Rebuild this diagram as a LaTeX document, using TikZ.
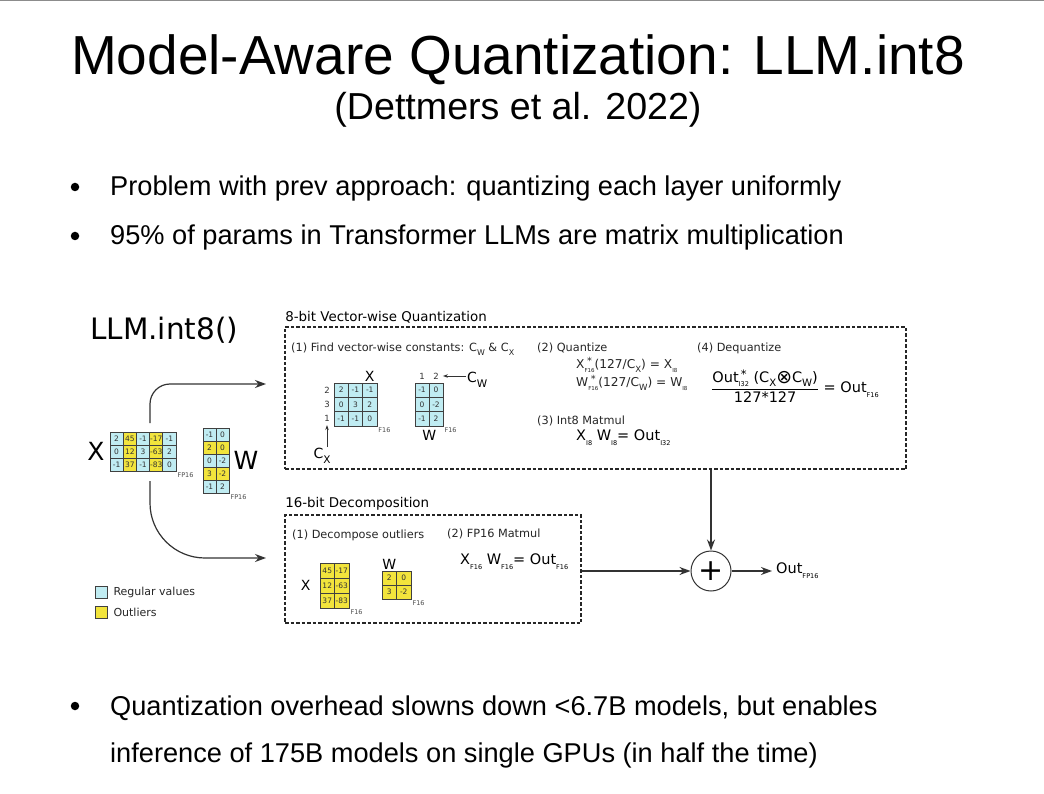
\documentclass[tikz,border=0pt]{standalone}
\usepackage{fontspec}
\usepackage{graphicx}
\usepackage{amsmath}
\usetikzlibrary{arrows.meta,positioning}
\setmainfont{Liberation Sans}
\newfontfamily\dejavu{DejaVu Sans}
\definecolor{regcol}{RGB}{192,236,242}
\definecolor{outcol}{RGB}{242,228,60}
\newcommand{\subt}[2][.45]{\raisebox{-.6ex}{\scalebox{#1}{#2}}}
\newcommand{\starsub}[1]{\setbox0\hbox{\subt{#1}}\rlap{\copy0}\hbox to\wd0{\hss\raisebox{.5ex}{\scalebox{.8}{*}}\hss}}

\begin{document}
\begin{tikzpicture}[x=1pt, y=-1pt, >={Stealth[length=11pt,width=8pt]}]
      \tikzstyle{arrow} = [line width=1.2pt, draw=black!80, ->]
      \tikzstyle{thin arrow} = [line width=0.8pt, draw=black!80, -{Stealth[length=5pt,width=3.5pt]}]
      \tikzstyle{dashbox} = [draw=black!85, line width=1.8pt, dash pattern=on 3.5pt off 2pt, inner sep=0pt]
      \tikzstyle{cell} = [draw=black!75, line width=0.7pt, inner sep=0pt, text=black!80, font=\dejavu\fontsize{7.5}{8}\selectfont]
      \tikzstyle{reg} = [cell, fill=regcol]
      \tikzstyle{outl} = [cell, fill=outcol]
      \tikzstyle{slide} = [inner sep=0pt, anchor=base west, font=\fontsize{27.2}{30}\selectfont]
      \tikzstyle{dot} = [circle, fill=black, inner sep=0pt, minimum size=8.5pt]
      \tikzstyle{head} = [inner sep=0pt, anchor=base west, font=\dejavu\fontsize{13.4}{15}\selectfont]
      \tikzstyle{stagelbl} = [inner sep=0pt, anchor=west, font=\dejavu\fontsize{11.3}{13}\selectfont, text=black!85]
      \tikzstyle{eqsmall} = [inner sep=0pt, anchor=west, font=\dejavu\fontsize{12.2}{13}\selectfont, text=black!85]
      \tikzstyle{eqbig} = [inner sep=0pt, anchor=west, font=\dejavu\fontsize{14.5}{16}\selectfont]
      \tikzstyle{lbl} = [inner sep=1pt, font=\dejavu\fontsize{14}{16}\selectfont]
      \tikzstyle{biglbl} = [inner sep=2pt, font=\dejavu\fontsize{25}{28}\selectfont]
      \tikzstyle{idx} = [inner sep=0pt, font=\dejavu\fontsize{8.5}{9}\selectfont, text=black!80]
      \tikzstyle{tag} = [inner sep=1pt, anchor=north west, font=\dejavu\fontsize{6.5}{7}\selectfont, text=black!70]
      \tikzstyle{legtext} = [inner sep=0pt, font=\dejavu\fontsize{11}{13}\selectfont, text=black!85]

      \fill[white] (0,0) rectangle (1044,794);
      \useasboundingbox (0,0) rectangle (1044,794);
      \draw[black!45, line width=2.5pt] (0,0) -- (1044,0);

      % slide text
      \node[inner sep=0pt, anchor=base, font=\fontsize{55}{60}\selectfont] (title) at (518,75) {Model-Aware Quantization: LLM.int8};
      \node[inner sep=0pt, anchor=base, font=\fontsize{37.6}{40}\selectfont] (subtitle) at (518,120) {(Dettmers et al. 2022)};
      \node[dot] (dot-1) at (75,187) {};
      \node[slide] (bullet-1) at (110,195.5) {Problem with prev approach: quantizing each layer uniformly};
      \node[dot] (dot-2) at (75,236) {};
      \node[slide] (bullet-2) at (110,244.5) {95\% of params in Transformer LLMs are matrix multiplication};
      \node[dot] (dot-3) at (75,706) {};
      \node[slide] (bullet-3) at (110,715) {Quantization overhead slowns down <6.7B models, but enables};
      \node[slide] (bullet-3b) at (110,762) {inference of 175B models on single GPUs (in half the time)};

      % input matrices
      \node[inner sep=0pt, anchor=base west, font=\dejavu\fontsize{29.5}{32}\selectfont] (llm) at (90,339) {LLM.int8()};
      \foreach \row [count=\i] in {{2/reg,45/outl,-1/reg,-17/outl,-1/reg},{0/reg,12/outl,3/reg,-63/outl,2/reg},{-1/reg,37/outl,-1/reg,-83/outl,0/reg}}
        \foreach \v/\s [count=\j] in \row
          \node[\s, minimum width=13.2pt, minimum height=13pt] (Xin-\i-\j) at ({103.4+13.2*\j}, {425.5+13*\i}) {\v};
      \foreach \row [count=\i] in {{-1/reg,0/reg},{2/outl,0/outl},{0/reg,-2/reg},{3/outl,-2/outl},{-1/reg,2/reg}}
        \foreach \v/\s [count=\j] in \row
          \node[\s, minimum width=13pt, minimum height=13pt] (Win-\i-\j) at ({196.5+13*\j}, {421.5+13*\i}) {\v};
      \node[biglbl, left=3pt of Xin-2-1] (Xin-lbl) {X};
      \node[biglbl, right=2pt of Win-3-2] (Win-lbl) {W};
      \node[tag] (Xin-tag) at (Xin-3-5.south east) {FP16};
      \node[tag] (Win-tag) at (Win-5-2.south east) {FP16};

      % legend
      \node[reg, minimum size=12pt] (leg-reg) at (101,592) {};
      \node[outl, minimum size=12pt] (leg-out) at (101,612) {};
      \node[legtext, right=6pt of leg-reg] (leg-reg-txt) {Regular values};
      \node[legtext, right=6pt of leg-out] (leg-out-txt) {Outliers};

      % 8-bit vector-wise quantization
      \node[dashbox, minimum width=621pt, minimum height=142pt] (qbox) at (595.5,398) {};
      \node[head] (qhead) at ([xshift=1pt, yshift=5pt]qbox.north west) {8-bit Vector-wise Quantization};
      \node[stagelbl] (find) at (291,349) {(1) Find vector-wise constants: C\subt[.7]{W} \& C\subt[.7]{X}};
      \foreach \row [count=\i] in {{2,-1,-1},{0,3,2},{-1,-1,0}}
        \foreach \v [count=\j] in \row
          \node[reg, minimum width=14.3pt, minimum height=14.3pt] (Xq-\i-\j) at ({326.85+14.3*\j}, {375.85+14.3*\i}) {\v};
      \foreach \row [count=\i] in {{-1,0},{0,-2},{-1,2}}
        \foreach \v [count=\j] in \row
          \node[reg, minimum width=14pt, minimum height=14.3pt] (Wq-\i-\j) at ({408+14*\j}, {375.85+14.3*\i}) {\v};
      \foreach \v [count=\i] in {2,3,1}
        \node[idx] (cx-\i) at (327, {375.85+14.3*\i}) {\v};
      \foreach \v [count=\j] in {1,2}
        \node[idx] (cw-\j) at ({408+14*\j}, 376) {\v};
      \node[lbl, above=0pt of Xq-1-3] (Xq-lbl) {X};
      \node[lbl, below=2.5pt of Wq-3-1.south east] (Wq-lbl) {W};
      \node[tag] (Xq-tag) at (Xq-3-3.south east) {F16};
      \node[tag] (Wq-tag) at (Wq-3-2.south east) {F16};
      \node[lbl, anchor=north] (Cx) at (322,447) {C\subt[.75]{X}};
      \node[lbl, anchor=west] (Cw) at (466,380) {C\subt[.75]{W}};
      \draw[thin arrow] (cx-3.south |- Cx.north) -- ([yshift=-3pt]cx-3.south);
      \draw[thin arrow] (Cw.west |- cw-2) -- ([xshift=4pt]cw-2.east);

      \node[stagelbl] (quant) at (537,348) {(2) Quantize};
      \node[eqsmall] (quant-x) at (576,365) {X\starsub{F16}(127/C\subt[.7]{X}) = X\subt{I8}};
      \node[eqsmall] (quant-w) at (576,383) {W\starsub{F16}(127/C\subt[.7]{W}) = W\subt{I8}};
      \node[stagelbl] (matmul) at (537,421) {(3) Int8 Matmul};
      \node[eqbig] (matmul-eq) at (576,438) {X\subt{I8} W\subt{I8}= Out\subt{I32}};
      \node[stagelbl] (dequant) at (697,348) {(4) Dequantize};
      \node[eqbig] (dequant-eq) at (711,386) {$\displaystyle\frac{\text{Out\starsub{I32} (C\subt[.7]{X}\raisebox{-.15ex}{\scalebox{1.3}{⊗}}C\subt[.7]{W})}}{\text{127*127}}$ = Out\subt{F16}};

      % 16-bit decomposition
      \node[dashbox, minimum width=296pt, minimum height=108pt] (dbox) at (433,569) {};
      \node[head] (dhead) at ([xshift=1pt, yshift=7pt]dbox.north west) {16-bit Decomposition};
      \node[stagelbl] (decomp) at (292,535) {(1) Decompose outliers};
      \node[stagelbl] (fpmul) at (447,534) {(2) FP16 Matmul};
      \foreach \row [count=\i] in {{45,-17},{12,-63},{37,-83}}
        \foreach \v [count=\j] in \row
          \node[outl, minimum width=14.5pt, minimum height=15pt] (Xo-\i-\j) at ({312.75+14.5*\j}, {555.5+15*\i}) {\v};
      \foreach \row [count=\i] in {{2,0},{3,-2}}
        \foreach \v [count=\j] in \row
          \node[outl, minimum width=14.5pt, minimum height=14pt] (Wo-\i-\j) at ({374.75+14.5*\j}, {564+14*\i}) {\v};
      \node[lbl, left=8pt of Xo-2-1] (Xo-lbl) {X};
      \node[lbl, above=0pt of Wo-1-1] (Wo-lbl) {W};
      \node[tag] (Xo-tag) at (Xo-3-2.south east) {F16};
      \node[tag] (Wo-tag) at (Wo-2-2.south east) {F16};
      \node[eqbig] (fpmul-eq) at (460,562) {X\subt{F16} W\subt{F16}= Out\subt{F16}};

      % combine
      \node[circle, draw=black!80, line width=1pt, minimum size=40pt, inner sep=0pt, font=\dejavu\fontsize{30}{30}\selectfont] (plus) at (711,571) {+};
      \node[eqbig] (out) at (776,571) {Out\subt{FP16}};

      \coordinate (up-start) at (150,423);
      \coordinate (up-end) at (266,384);
      \coordinate (dn-start) at (150,481);
      \coordinate (dn-end) at (266,558);
      \draw[arrow, rounded corners=20pt] (up-start) |- (up-end);
      \draw[arrow, rounded corners=55pt] (dn-start) |- (dn-end);
      \draw[arrow] (qbox.south -| plus.north) -- (plus.north);
      \draw[arrow] (dbox.east |- plus.west) -- (plus.west);
      \draw[arrow, shorten >=4pt] (plus.east) -- (out.west);
\end{tikzpicture}
\end{document}
